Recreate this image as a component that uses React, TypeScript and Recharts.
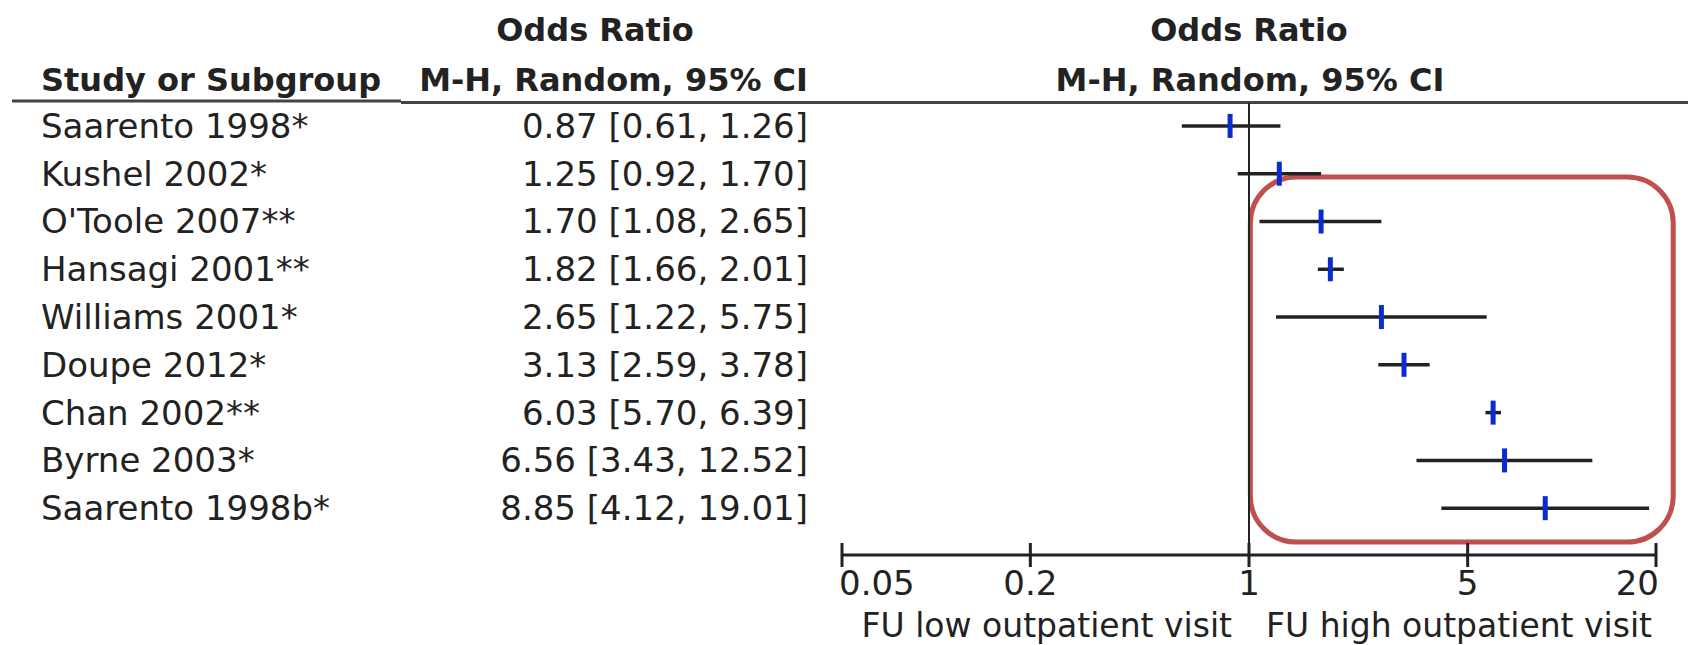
import React from 'react';
import {
  ScatterChart,
  Scatter,
  XAxis,
  YAxis,
  ReferenceLine,
  ReferenceArea,
  Customized,
} from 'recharts';

const studies = [
  'Saarento 1998*',
  'Kushel 2002*',
  "O'Toole 2007**",
  'Hansagi 2001**',
  'Williams 2001*',
  'Doupe 2012*',
  'Chan 2002**',
  'Byrne 2003*',
  'Saarento 1998b*',
];
const oddsRatio = [0.87, 1.25, 1.7, 1.82, 2.65, 3.13, 6.03, 6.56, 8.85];
const ciLow = [0.61, 0.92, 1.08, 1.66, 1.22, 2.59, 5.7, 3.43, 4.12];
const ciHigh = [1.26, 1.7, 2.65, 2.01, 5.75, 3.78, 6.39, 12.52, 19.01];
const ciText = [
  '0.87 [0.61, 1.26]',
  '1.25 [0.92, 1.70]',
  '1.70 [1.08, 2.65]',
  '1.82 [1.66, 2.01]',
  '2.65 [1.22, 5.75]',
  '3.13 [2.59, 3.78]',
  '6.03 [5.70, 6.39]',
  '6.56 [3.43, 12.52]',
  '8.85 [4.12, 19.01]',
];
const xTicks = [0.05, 0.2, 1, 5, 20];

const FONT = '"DejaVu Sans", sans-serif';
const TEXT = '#222';
const W = 1688;
const H = 645;

const points = studies.map((s, i) => ({ x: oddsRatio[i], y: i, name: s, ci: ciText[i] }));

const Marker = (props: any) => {
  const { cx, cy } = props;
  return <rect x={cx - 2.5} y={cy - 12} width={5} height={24} fill="#0b2bd0" />;
};

// row text (study name + CI string), placed on the row's y from the scale
const RowLabel = (props: any) => {
  const { cy, payload } = props;
  return (
    <g fontFamily={FONT} fontSize={34} fill={TEXT}>
      <text x={41} y={cy + 12}>{payload.name}</text>
      <text x={808} y={cy + 12} textAnchor="end">{payload.ci}</text>
    </g>
  );
};

const NoShape = () => <g />;

const XTick = (props: any) => {
  const { x, y, payload } = props;
  const v = payload.value;
  const first = v === xTicks[0];
  const last = v === xTicks[xTicks.length - 1];
  const anchor = first ? 'start' : last ? 'end' : 'middle';
  const dx = first ? -3 : last ? 3 : 0;
  return (
    <g>
      <line x1={x} x2={x} y1={y - 12} y2={y + 12} stroke="#222" strokeWidth={3} />
      <text x={x + dx} y={y + 40} textAnchor={anchor} fontFamily={FONT} fontSize={34} fill={TEXT}>
        {v}
      </text>
      {v === 1 && (
        <>
          <text x={x - 17} y={y + 82} textAnchor="end" fontFamily={FONT} fontSize={33} fill={TEXT}>
            FU low outpatient visit
          </text>
          <text x={x + 17} y={y + 82} textAnchor="start" fontFamily={FONT} fontSize={33} fill={TEXT}>
            FU high outpatient visit
          </text>
        </>
      )}
    </g>
  );
};

const Header = () => (
  <g fontFamily={FONT} fontWeight="bold" fontSize={32} fill={TEXT}>
    <text x={595} y={41} textAnchor="middle">Odds Ratio</text>
    <text x={41} y={91}>Study or Subgroup</text>
    <text x={808} y={91} textAnchor="end">M-H, Random, 95% CI</text>
    <text x={1249} y={41} textAnchor="middle">Odds Ratio</text>
    <text x={1250} y={91} textAnchor="middle">M-H, Random, 95% CI</text>
    <line x1={12} x2={401} y1={101} y2={101} stroke="#444" strokeWidth={3} />
    <line x1={401} x2={W} y1={102.5} y2={102.5} stroke="#444" strokeWidth={3} />
  </g>
);

const RoundBox = (props: any) => {
  const { x, y, width, height } = props;
  return (
    <rect x={x} y={y} width={width} height={height} rx={46} ry={46}
      fill="none" stroke="#c0504d" strokeWidth={5} />
  );
};

export default function App() {
  return (
    <div style={{ position: 'absolute', left: 0, top: 0, background: '#fff' }}>
      <ScatterChart
        width={W}
        height={H}
        margin={{ top: 103, right: 32, bottom: 89, left: 842 }}
      >
        <XAxis
          type="number"
          dataKey="x"
          scale="log"
          domain={[0.05, 20]}
          ticks={xTicks}
          height={1}
          axisLine={{ stroke: '#222', strokeWidth: 3 }}
          tickLine={false}
          tickSize={0}
          tickMargin={0}
          tick={<XTick />}
          interval={0}
        />
        <YAxis
          type="number"
          dataKey="y"
          reversed
          domain={[-0.48, 8.98]}
          width={0}
          hide
        />
        <ReferenceLine x={1} stroke="#222" strokeWidth={2} />
        {studies.map((s, i) => (
          <Scatter
            key={s}
            data={[
              { x: ciLow[i], y: i },
              { x: ciHigh[i], y: i },
            ]}
            line={{ stroke: '#222', strokeWidth: 3.5 }}
            shape={<NoShape />}
            isAnimationActive={false}
          />
        ))}
        <Scatter data={points} shape={<Marker />} isAnimationActive={false} />
        <Scatter data={points} shape={<RowLabel />} isAnimationActive={false} />
        <ReferenceArea
          x1={1.01}
          x2={22.7}
          y1={1.07}
          y2={8.71}
          ifOverflow="visible"
          shape={<RoundBox />}
        />
        <Customized component={<Header />} />
      </ScatterChart>
    </div>
  );
}
